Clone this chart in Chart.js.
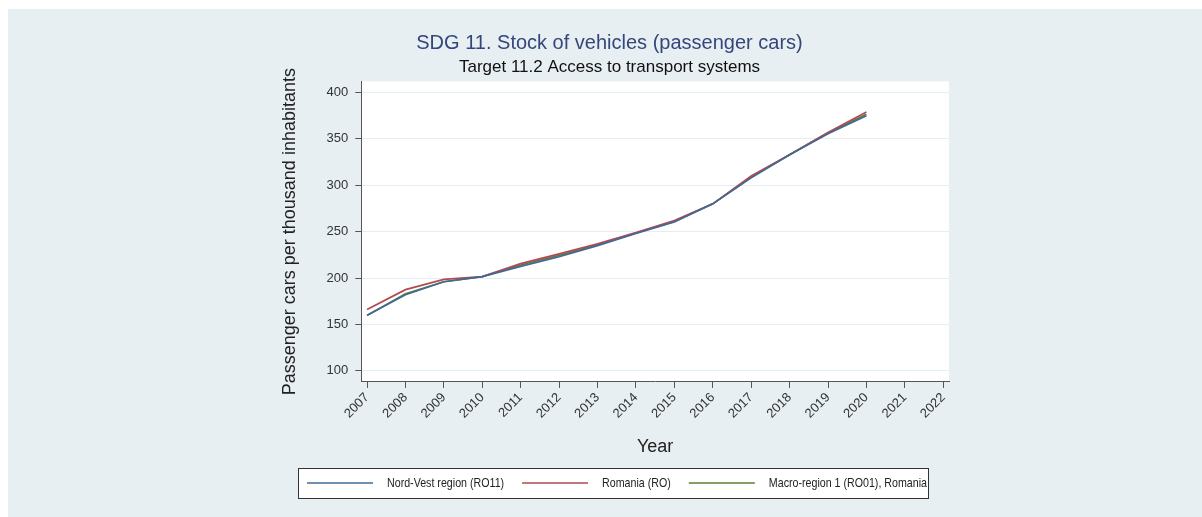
<!DOCTYPE html>
<html><head><meta charset="utf-8">
<script src="https://cdn.jsdelivr.net/npm/chart.js@4.4.0/dist/chart.umd.min.js"></script>
<style>html,body{margin:0;padding:0;background:#fff;}#wrap{width:1202px;height:517px;}</style>
</head><body><div id="wrap"><canvas id="c" width="1202" height="517"></canvas></div>
<script>
const years = [2007, 2008, 2009, 2010, 2011, 2012, 2013, 2014, 2015, 2016, 2017, 2018, 2019, 2020];
const axisYears = [2007, 2008, 2009, 2010, 2011, 2012, 2013, 2014, 2015, 2016, 2017, 2018, 2019, 2020, 2021, 2022];
const yTicks = [100, 150, 200, 250, 300, 350, 400];
const nordVest = [160, 182, 196, 201.5, 212.5, 223, 235, 248, 260.5, 280, 308, 333, 355.5, 375];
const romania = [166, 187.5, 198.5, 201.5, 215.5, 226, 237, 249, 262, 280, 310, 333, 357, 379];
const macro1 = [159.5, 183, 196, 201.5, 214, 224.5, 236, 248.5, 261, 280, 309, 333, 356.5, 376.5];
const seriesNames = ['Nord-Vest region (RO11)', 'Romania (RO)', 'Macro-region 1 (RO01), Romania'];
const seriesColors = ['#3f6a96', '#b24a51', '#5c7d3a'];
const titleText = 'SDG 11. Stock of vehicles (passenger cars)';
const subtitleText = 'Target 11.2 Access to transport systems';
const yTitle = 'Passenger cars per thousand inhabitants';
const xTitle = 'Year';

const FONT = '"Liberation Sans", Arial, sans-serif';
const toPts = arr => arr.map((v, i) => ({x: years[i], y: v}));

const bgPlugin = {
  id: 'bg',
  beforeDraw(chart) {
    const ctx = chart.ctx, a = chart.chartArea;
    ctx.save();
    ctx.fillStyle = '#ffffff';
    ctx.fillRect(0, 0, chart.width, chart.height);
    ctx.fillStyle = '#e8eff2';
    ctx.fillRect(8, 9, chart.width - 8, chart.height - 9);
    ctx.fillStyle = '#ffffff';
    ctx.fillRect(a.left, a.top, a.right - a.left, a.bottom - a.top);
    ctx.restore();
  }
};

const legendPlugin = {
  id: 'customLegend',
  afterDraw(chart) {
    const ctx = chart.ctx;
    ctx.save();
    const bx = 298, by = 468, bw = 630, bh = 30;
    ctx.fillStyle = '#ffffff';
    ctx.fillRect(bx, by, bw, bh);
    ctx.strokeStyle = '#333333';
    ctx.lineWidth = 1;
    ctx.strokeRect(bx + 0.5, by + 0.5, bw, bh);
    const cy = by + bh / 2;
    let x = 307;
    ctx.font = '13px ' + FONT;
    ctx.textBaseline = 'middle';
    chart.data.datasets.forEach((ds) => {
      ctx.strokeStyle = ds.borderColor;
      ctx.lineWidth = 1.6;
      ctx.beginPath();
      ctx.moveTo(x, cy);
      ctx.lineTo(x + 66, cy);
      ctx.stroke();
      const tx = x + 80;
      const w = ctx.measureText(ds.label).width * 0.82;
      ctx.save();
      ctx.translate(tx, cy);
      ctx.scale(0.82, 1);
      ctx.fillStyle = '#222222';
      ctx.fillText(ds.label, 0, 0);
      ctx.restore();
      x = tx + w + 18;
    });
    ctx.restore();
  }
};

new Chart(document.getElementById('c'), {
  type: 'line',
  data: {
    datasets: [
      {label: seriesNames[0], data: toPts(nordVest), borderColor: seriesColors[0]},
      {label: seriesNames[1], data: toPts(romania), borderColor: seriesColors[1]},
      {label: seriesNames[2], data: toPts(macro1), borderColor: seriesColors[2]}
    ].map(d => Object.assign(d, {borderWidth: 1.7, pointRadius: 0, fill: false, tension: 0, backgroundColor: d.borderColor}))
  },
  options: {
    responsive: false,
    animation: false,
    devicePixelRatio: 1,
    layout: {padding: {left: 270, right: 253, top: 0, bottom: 59}},
    plugins: {
      legend: {display: false},
      tooltip: {enabled: false},
      title: {display: true, text: titleText, color: '#34477a', font: {family: FONT, size: 20, weight: 'normal'}, padding: {top: 31, bottom: 0}},
      subtitle: {display: true, text: subtitleText, color: '#111111', font: {family: FONT, size: 17, weight: 'normal'}, padding: {top: 2, bottom: 4}}
    },
    scales: {
      x: {
        type: 'linear', min: 2006.85, max: 2022.15,
        afterBuildTicks: s => { s.ticks = axisYears.map(v => ({value: v})); },
        grid: {drawOnChartArea: false, tickLength: 6, tickColor: '#555555', tickWidth: 1},
        border: {color: '#555555', width: 1},
        ticks: {color: '#333333', font: {family: FONT, size: 13}, maxRotation: 45, minRotation: 45, padding: 2, autoSkip: false, callback: v => String(v)},
        title: {display: true, text: xTitle, color: '#222222', font: {family: FONT, size: 18}, padding: {top: 13, bottom: 0}}
      },
      y: {
        type: 'linear', min: 88, max: 412,
        afterBuildTicks: s => { s.ticks = yTicks.map(v => ({value: v})); },
        grid: {color: '#e6edf1', lineWidth: 1, tickLength: 6, tickColor: '#555555'},
        border: {color: '#555555', width: 1},
        ticks: {color: '#333333', font: {family: FONT, size: 13}, padding: 7},
        title: {display: true, text: yTitle, color: '#222222', font: {family: FONT, size: 18}, padding: {top: 9, bottom: 19}}
      }
    }
  },
  plugins: [bgPlugin, legendPlugin]
});
</script></body></html>
